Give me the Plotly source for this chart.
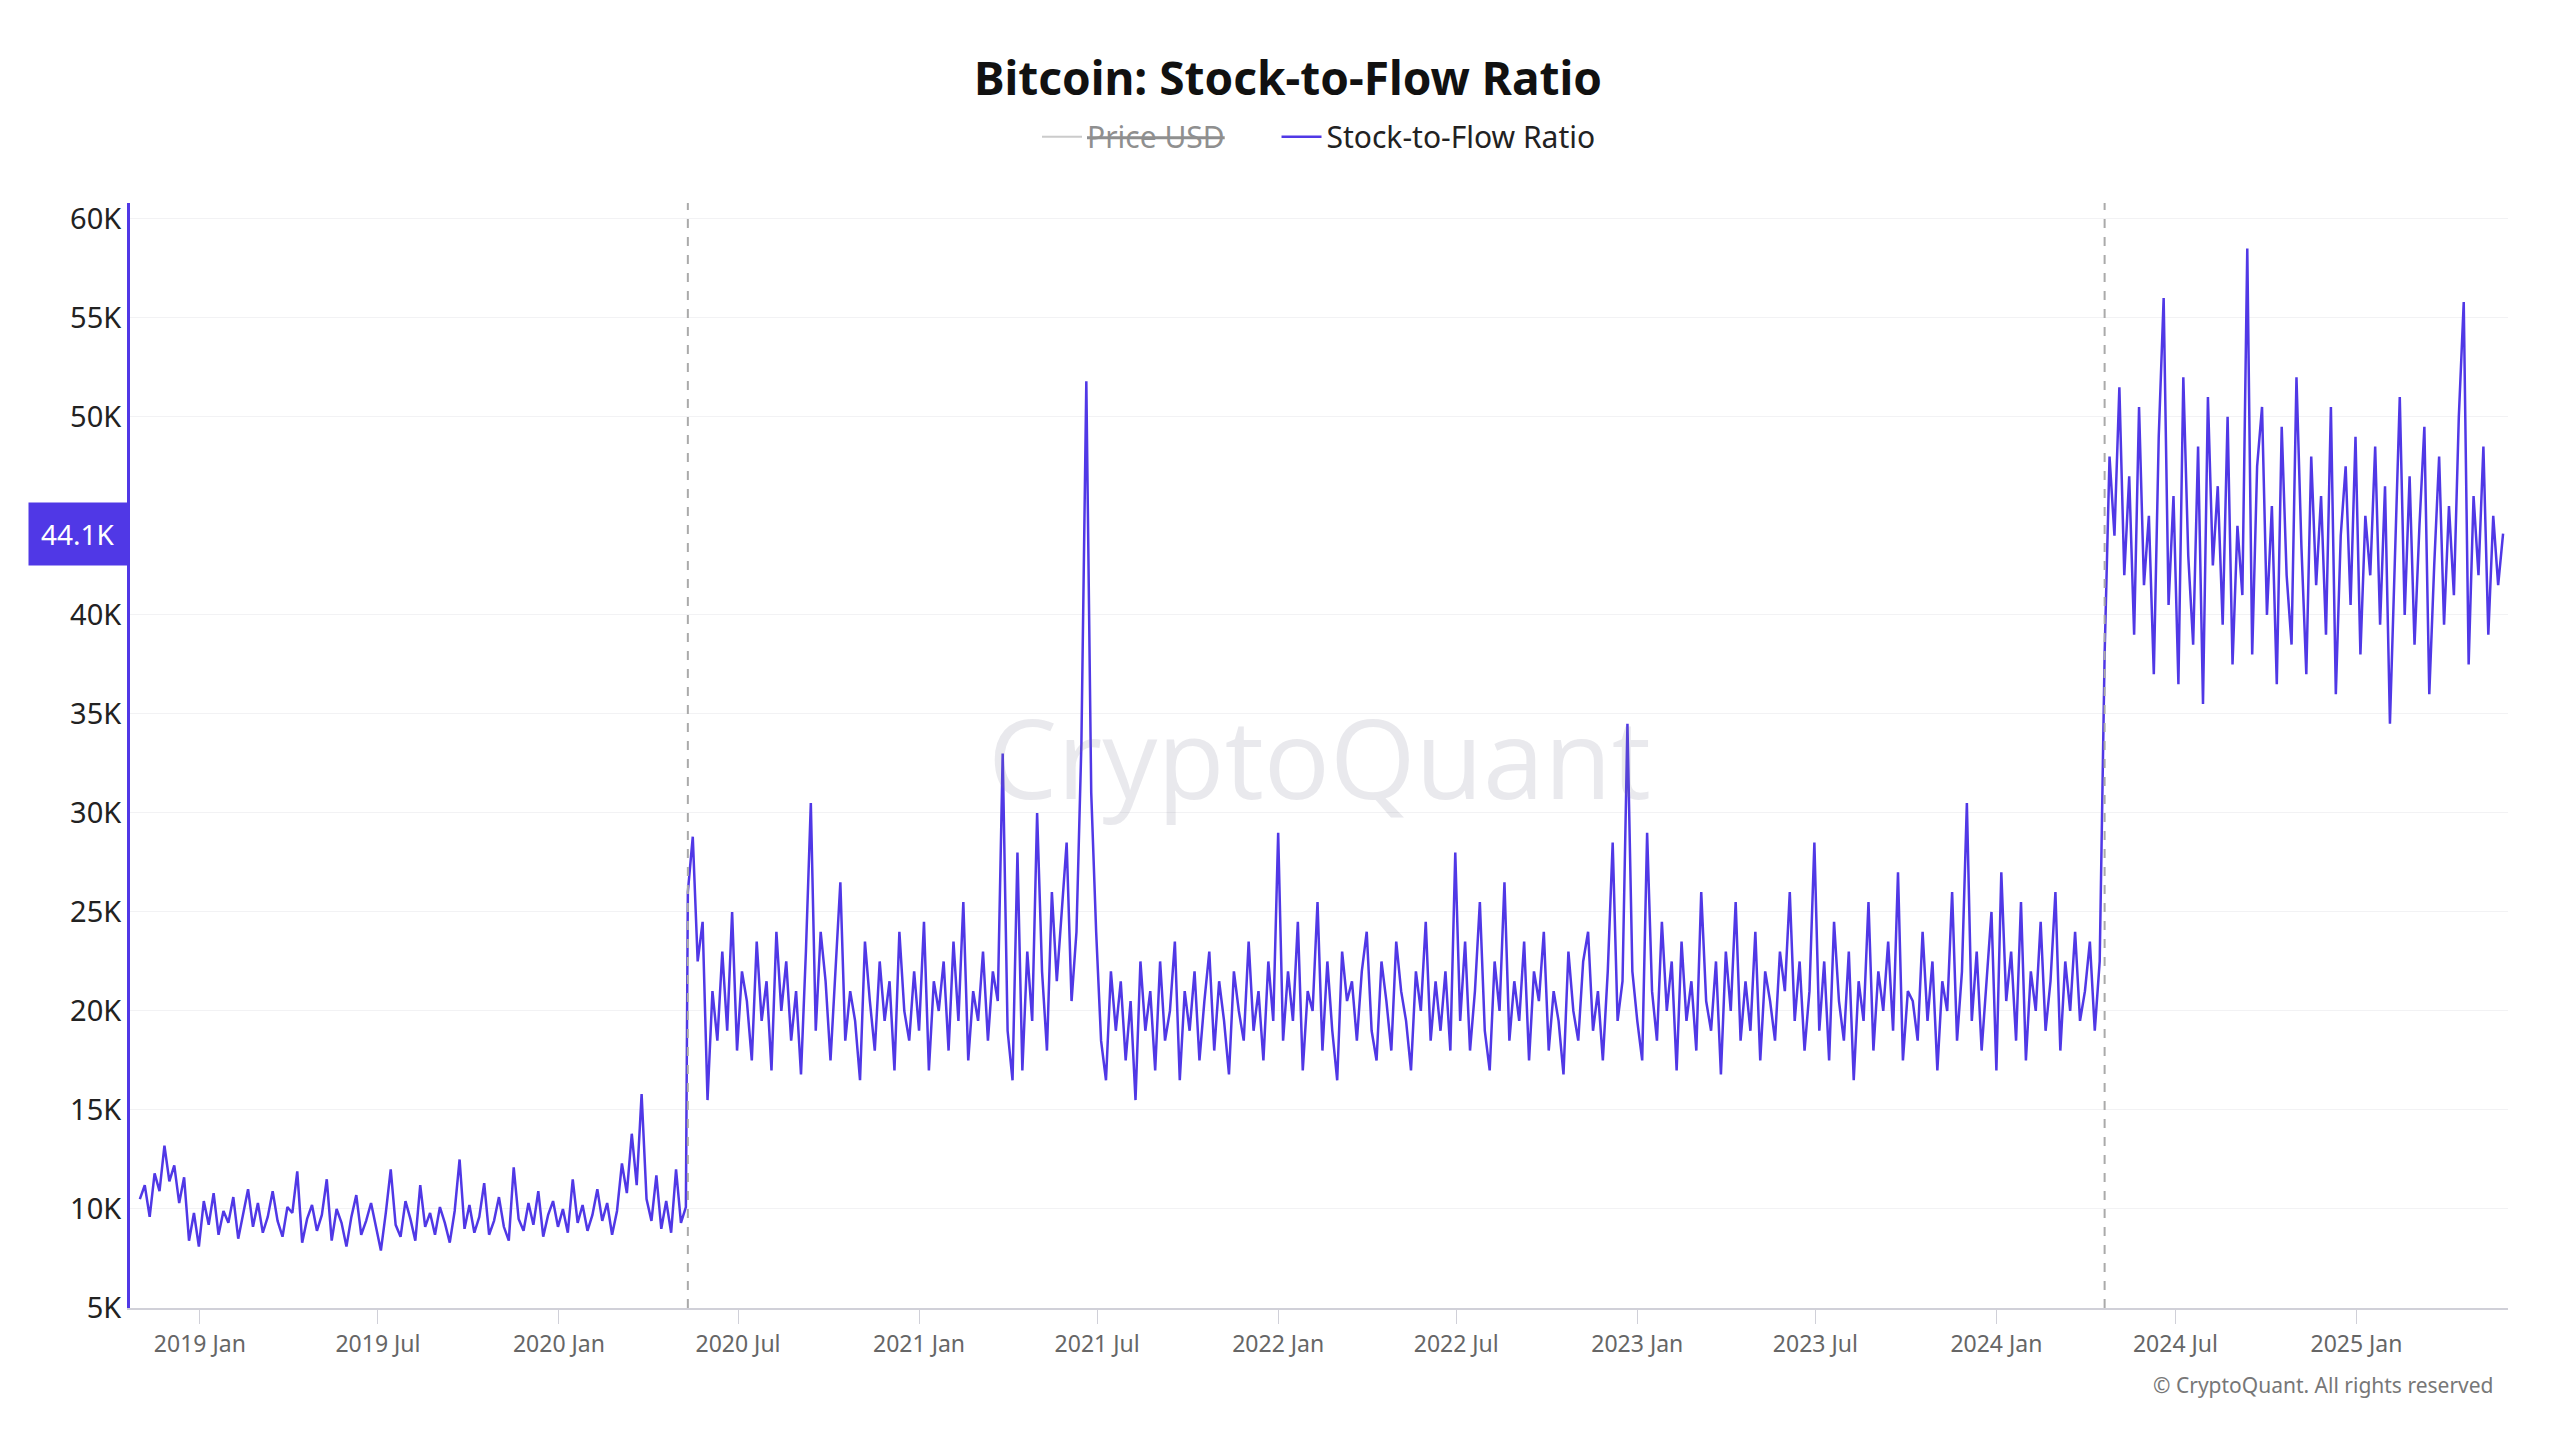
import pandas as pd
import plotly.graph_objects as go

seg1_start = "2018-11-01"
seg1 = [10500, 11200, 9600, 11800, 10900, 13200, 11400, 12200, 10300, 11600, 8400, 9800,
        8100, 10400, 9200, 10800, 8700, 9900, 9300, 10600, 8500, 9700, 11000, 9100, 10300, 8800, 9600, 10900, 9400, 8600, 10100, 9800, 11900, 8300, 9500, 10200, 8900, 9700, 11500, 8400, 10000, 9300, 8100, 9600, 10700, 8700, 9400, 10300,
        9000, 7900, 9800, 12000, 9200, 8600, 10400, 9500, 8400, 11200, 9100, 9800, 8700, 10100, 9300, 8300, 9900, 12500, 9000, 10200, 8800, 9600, 11300, 8700, 9400, 10600, 9100, 8400, 12100, 9500, 8900, 10300, 9200, 10900, 8600, 9700, 10400,
        9100, 10000, 8800, 11500, 9300, 10200, 8900, 9700, 11000, 9400, 10300, 8700, 9900, 12300, 10800, 13800, 11200, 15800, 10500, 9400, 11700, 9000, 10400, 8800, 12000, 9300, 10100]

seg2_start = "2020-05-11"
seg2 = [26000, 28800, 22500, 24500, 15500, 21000, 18500, 23000, 19000, 25000,
        18000, 22000, 20500, 17500, 23500, 19500, 21500, 17000, 24000, 20000, 22500, 18500, 21000, 16800, 23000, 30500, 19000, 24000, 21500, 17500, 22000, 26500, 18500, 21000, 19500, 16500, 23500, 20500, 18000, 22500, 19500, 21500, 17000, 24000, 20000, 18500, 22000,
        19000, 24500, 17000, 21500, 20000, 22500, 18000, 23500, 19500, 25500, 17500, 21000, 19500, 23000, 18500, 22000, 20500, 33000, 19000, 16500, 28000, 17000, 23000, 19500, 30000, 22000, 18000, 26000, 21500, 25000, 28500, 20500, 24000, 33500, 51800, 31000,
        24000, 18500, 16500, 22000, 19000, 21500, 17500, 20500, 15500, 22500, 19000, 21000, 17000, 22500, 18500, 20000, 23500, 16500, 21000, 19000, 22000, 17500, 20500, 23000, 18000, 21500, 19500, 16800, 22000, 20000, 18500, 23500, 19000, 21000, 17500, 22500, 19500,
        29000, 18500, 22000, 19500, 24500, 17000, 21000, 20000, 25500, 18000, 22500, 19000, 16500, 23000, 20500, 21500, 18500, 22000, 24000, 19000, 17500, 22500, 20500, 18000, 23500, 21000, 19500, 17000, 22000, 20000, 24500, 18500, 21500, 19000, 22000, 18000,
        28000, 19500, 23500, 18000, 21000, 25500, 19000, 17000, 22500, 20000, 26500, 18500, 21500, 19500, 23500, 17500, 22000, 20500, 24000, 18000, 21000, 19500, 16800, 23000, 20000, 18500, 22500, 24000, 19000, 21000, 17500, 22000, 28500, 19500, 21500, 34500, 22000,
        19500, 17500, 29000, 21000, 18500, 24500, 20000, 22500, 17000, 23500, 19500, 21500, 18000, 26000, 20500, 19000, 22500, 16800, 23000, 20000, 25500, 18500, 21500, 19000, 24000, 17500, 22000, 20500, 18500, 23000, 21000, 26000, 19500, 22500, 18000, 21000,
        28500, 19000, 22500, 17500, 24500, 20500, 18500, 23000, 16500, 21500, 19500, 25500, 18000, 22000, 20000, 23500, 19000, 27000, 17500, 21000, 20500, 18500, 24000, 19500, 22500, 17000, 21500, 20000, 26000, 18500, 22000, 30500, 19500, 23000, 18000, 21500, 25000,
        17000, 27000, 20500, 23000, 18500, 25500, 17500, 22000, 20000, 24500, 19000, 21500, 26000, 18000, 22500, 20000, 24000, 19500, 21000, 23500, 19000, 22500]

seg3_start = "2024-04-20"
seg3 = [38000, 48000, 44000, 51500, 42000, 47000, 39000, 50500, 41500, 45000, 37000, 49000, 56000, 40500, 46000, 36500, 52000, 43000, 38500, 48500, 35500, 51000, 42500, 46500, 39500, 50000, 37500, 44500, 41000, 58500, 38000, 47500, 50500, 40000, 45500, 36500, 49500, 42000, 38500, 52000, 43500, 37000, 48000, 41500, 46000, 39000, 50500, 36000, 44000, 47500, 40500, 49000, 38000, 45000, 42000, 48500, 39500, 46500, 34500, 43000, 51000, 40000, 47000, 38500, 44500, 49500, 36000, 42500, 48000, 39500, 45500, 41000, 50000, 55800, 37500, 46000, 42000, 48500, 39000, 45000, 41500, 44100]

halvings = ["2020-05-11", "2024-04-20"]
y_ticks = [5000, 10000, 15000, 20000, 25000, 30000, 35000, 40000, 50000, 55000, 60000]
y_labels = ["5K", "10K", "15K", "20K", "25K", "30K", "35K", "40K", "50K", "55K", "60K"]
step = "5D"

dates = []
vals = []
for start, seg in [(seg1_start, seg1), (seg2_start, seg2), (seg3_start, seg3)]:
    dates += list(pd.date_range(start, periods=len(seg), freq=step))
    vals += seg

purple = "#5038E6"
fig = go.Figure()
fig.add_trace(go.Scatter(x=dates, y=vals, name="<s>Price USD</s>      ", visible="legendonly",
                         line=dict(color="#999999", width=2)))
fig.add_trace(go.Scatter(x=dates, y=vals, name="Stock-to-Flow Ratio", mode="lines",
                         line=dict(color=purple, width=2.5)))

for h in halvings:
    fig.add_shape(type="line", x0=h, x1=h, y0=0, y1=1, xref="x", yref="paper",
                  line=dict(color="#AAAAAA", width=2, dash="dash"))

fig.add_annotation(x=0.5, y=0.5, xref="paper", yref="paper", text="CryptoQuant", showarrow=False,
                   font=dict(size=110, color="rgba(120,120,140,0.16)", family="Open Sans"))
fig.add_annotation(x=0.995, y=-0.055, xref="paper", yref="paper", xanchor="right", yanchor="top",
                   text="© CryptoQuant. All rights reserved", showarrow=False,
                   font=dict(size=21, color="#777"))
fig.add_annotation(x=0, y=vals[-1], xref="paper", yref="y", xanchor="right", showarrow=False,
                   text="44.1K", bgcolor=purple, font=dict(size=28, color="white"),
                   borderpad=12, xshift=-2)

fig.update_layout(
    width=2560, height=1440, autosize=False,
    paper_bgcolor="white", plot_bgcolor="white",
    font=dict(family="Noto Sans", color="#222"),
    title=dict(text="<b>Bitcoin: Stock-to-Flow Ratio</b>", x=0.5, y=0.962, yanchor="top",
               font=dict(size=46, color="#111")),
    legend=dict(orientation="h", x=0.5, xanchor="center", y=1.06, yanchor="middle",
                font=dict(size=30, color="#222"), itemwidth=40),
    margin=dict(l=122, r=60, t=195, b=140),
    xaxis=dict(range=["2018-10-22", "2025-06-04"], dtick="M6", tick0="2019-01-01",
               tickformat="%Y %b", showgrid=False, ticks="outside", ticklen=14,
               tickcolor="#D0D0D8", showline=True, linecolor="#D0D0D8", linewidth=2,
               tickfont=dict(size=23, color="#666")),
    yaxis=dict(range=[5000, 60800], tickvals=y_ticks, ticktext=y_labels,
               showgrid=True, gridcolor="#F2F2F4", showline=True, linecolor=purple,
               linewidth=3, tickfont=dict(size=29, color="#222"), zeroline=False),
)
fig.write_html("out.html")
